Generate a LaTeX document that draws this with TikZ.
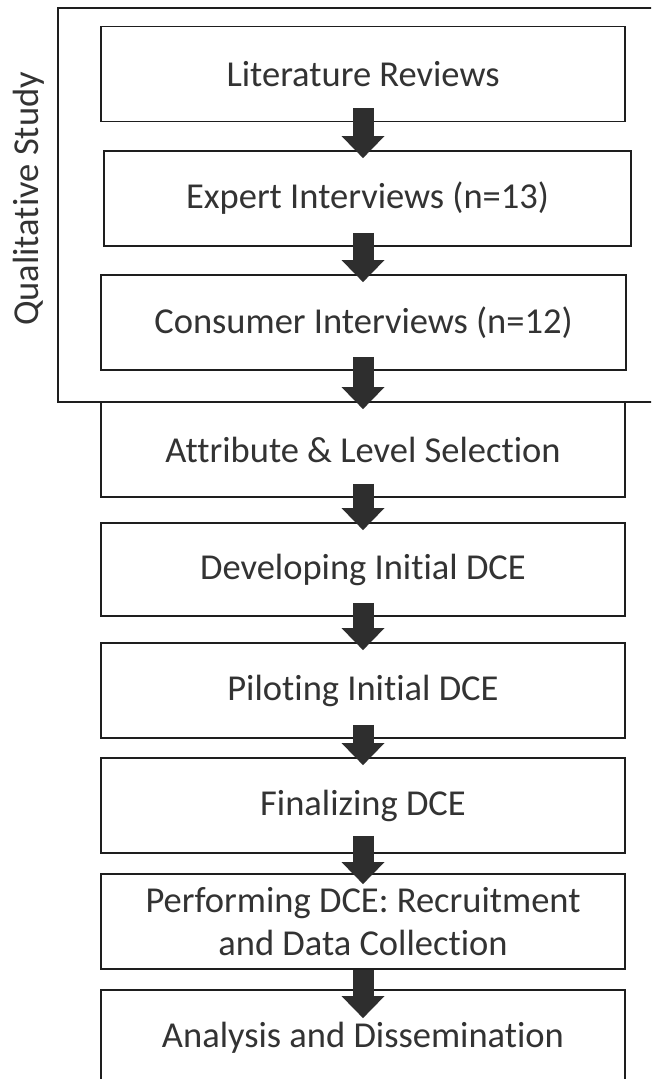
\documentclass[tikz,border=0pt]{standalone}
\usepackage{fontspec}
\setmainfont{Carlito}[Ligatures=NoCommon]
\usepackage{xcolor}
\usetikzlibrary{arrows.meta,calc,positioning}

\definecolor{boxline}{HTML}{1E1E1E}
\definecolor{arrowgray}{HTML}{2E2E2E}
\definecolor{textgray}{HTML}{333333}

\tikzset{
    stepbox/.style={draw=boxline, line width=1.8pt, fill=white,
        minimum width=524pt, minimum height=95pt, inner sep=0pt,
        align=center, text=textgray,
        font=\fontsize{36.5}{43}\selectfont},
    flow/.style={draw=arrowgray, line width=21pt,
        -{Triangle[width=43pt,length=22pt,line width=0pt,fill=arrowgray]}},
}

\begin{document}
\begin{tikzpicture}[x=1pt,y=1pt]
    \useasboundingbox (0,0) rectangle (651,1079);
    \clip (0,0) rectangle (651,1079);
    % qualitative study frame
    \draw[boxline, line width=1.8pt] (700,1071) -- (58,1071) -- (58,677) -- (700,677);
    \node[rotate=90, text=textgray, font=\fontsize{36.5}{43}\selectfont] (qual) at (29,880) {Qualitative Study};

    % steps
    \node[stepbox] (lit) at (363,1005) {Literature Reviews};
    \node[stepbox, minimum width=527pt] (expert) at (367.5,880.5) {Expert Interviews (n=13)};
    \node[stepbox, minimum width=525pt] (consumer) at (363.5,756.5) {Consumer Interviews (n=12)};
    \node[stepbox] (attr) at (363,629.5) {Attribute \& Level Selection};
    \node[stepbox, minimum height=93pt] (develop) at (363,509.5) {Developing Initial DCE};
    \node[stepbox] (pilot) at (363,388.5) {Piloting Initial DCE};
    \node[stepbox] (final) at (363,273.5) {Finalizing DCE};
    \node[stepbox] (perform) at (363,157.5) {Performing DCE: Recruitment\\and Data Collection};
    \node[stepbox] (analysis) at (363,41.5) {Analysis and Dissemination};

    % arrows
    \draw[flow] ($(lit.south)+(0,14)$) -- ($(lit.south|-expert.north)+(0,-8)$);
    \draw[flow] ($(expert.south-|lit.south)+(0,14)$) -- ($(consumer.north-|lit.south)+(0,-8)$);
    \draw[flow] ($(consumer.south-|lit.south)+(0,14)$) -- ($(attr.north)+(0,-8)$);
    \draw[flow] ($(attr.south)+(0,14)$) -- ($(develop.north)+(0,-8)$);
    \draw[flow] ($(develop.south)+(0,14)$) -- ($(pilot.north)+(0,-8)$);
    \draw[flow] ($(pilot.south)+(0,14)$) -- ($(final.north)+(0,-8)$);
    \draw[flow] ($(final.south)+(0,18)$) -- ($(perform.north)+(0,-11)$);
    \draw[flow] ($(perform.south)+(0,0)$) -- ($(analysis.north)+(0,-29)$);
\end{tikzpicture}
\end{document}
